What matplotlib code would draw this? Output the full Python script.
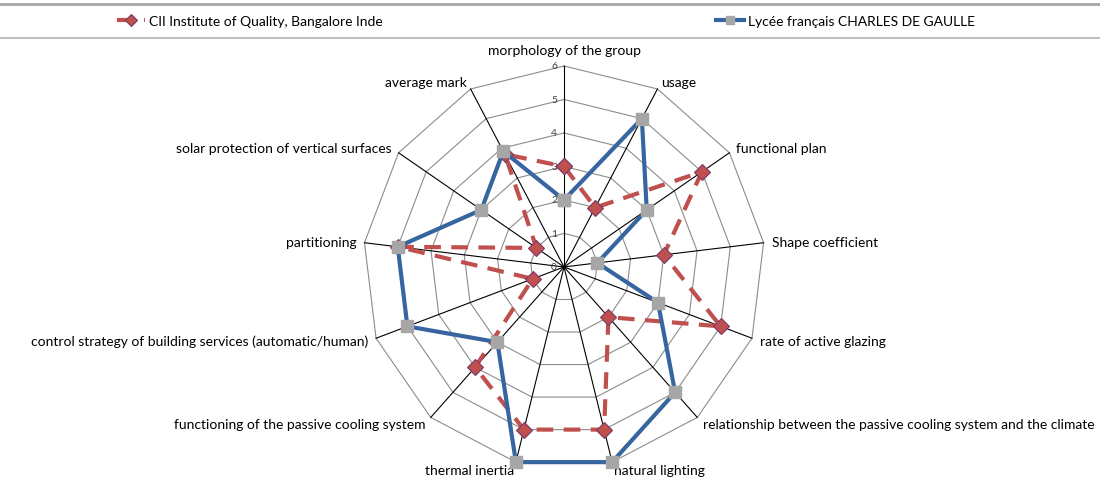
""" Radar chart comparing two buildings on bioclimatic criteria """

import numpy as np
import matplotlib
matplotlib.use("Agg")
import matplotlib.pyplot as plt
from matplotlib.lines import Line2D

categories = [
    "morphology of the group",
    "usage",
    "functional plan",
    "Shape coefficient",
    "rate of active glazing",
    "relationship between the passive cooling system and the climate",
    "natural lighting",
    "thermal inertia",
    "functioning of the passive cooling system",
    "control strategy of building services (automatic/human)",
    "partitioning",
    "solar protection of vertical surfaces",
    "average mark",
]
cii_values = [3, 2, 5, 3, 5, 2, 5, 5, 4, 1, 5, 1, 3.8]
lycee_values = [2, 5, 3, 1, 3, 5, 6, 6, 3, 5, 5, 3, 3.9]
series_names = ["CII Institute of Quality, Bangalore Inde",
                "Lycée français CHARLES DE GAULLE"]
r_ticks = [0, 1, 2, 3, 4, 5, 6]

plt.rcParams["font.family"] = ["Lato", "DejaVu Sans"]

fig = plt.figure(figsize=(11, 4.81), dpi=100)
ax = fig.add_axes([0.330, 0.025, 0.3655, 0.8358], projection="polar")
ax.set_theta_zero_location("N")
ax.set_theta_direction(-1)
ax.set_ylim(0, 6)
ax.grid(False)
ax.set_xticks([])
ax.set_yticks([])
ax.spines["polar"].set_visible(False)
ax.patch.set_visible(False)

n = len(categories)
angles = np.arange(n) * 2 * np.pi / n
closed = np.append(angles, angles[0])

# polygon grid + spokes
for r in r_ticks[1:]:
    ax.plot(closed, [r] * (n + 1), color="#8c8c8c", lw=0.8, clip_on=False, zorder=1)
for a in angles:
    ax.plot([a, a], [0, 6], color="black", lw=0.8, clip_on=False, zorder=1)

for r in r_ticks:
    ax.annotate(str(r), (0, r), xytext=(-5, 0), textcoords="offset points",
                ha="right", va="center", fontsize=7.5, color="#404040")

# category labels
for a, label in zip(angles, categories):
    s, c = np.sin(a), np.cos(a)
    ha = "left" if s > 0.1 else ("right" if s < -0.1 else "center")
    if abs(s) < 0.1 and c > 0:
        ax.annotate(label, (a, 6), xytext=(0, 7), textcoords="offset points",
                    ha="center", va="bottom", fontsize=10)
    else:
        ax.annotate(label, (a, 6), xytext=(6 * s, 6 * c), textcoords="offset points",
                    ha=ha, va="center", fontsize=10)

# data series
ax.plot(closed, np.append(cii_values, cii_values[0]), color="#C0504D", lw=3,
        ls=(0, (4, 2.5)), marker="D", markersize=8, markerfacecolor="#C0504D",
        markeredgecolor="#7a3a6a", markeredgewidth=0.8, clip_on=False, zorder=3,
        label=series_names[0])
ax.plot(closed, np.append(lycee_values, lycee_values[0]), color="#37659f", lw=3,
        marker="s", markersize=8, markerfacecolor="#a6a6a6",
        markeredgecolor="#a6a6a6", clip_on=False, zorder=4,
        label=series_names[1])

# legend frame lines
fig.add_artist(Line2D([0, 1], [1 - 5 / 481] * 2, color="#a6a6a6", lw=2))
fig.add_artist(Line2D([0, 1], [1 - 39 / 481] * 2, color="#bfbfbf", lw=1.5))

handles, labels = ax.get_legend_handles_labels()
fig.legend(handles, labels, ncol=2, loc="center left", bbox_to_anchor=(0.095, 1 - 22 / 481),
           frameon=False, fontsize=10, handlelength=2.0, handletextpad=0.3,
           columnspacing=24, markerscale=0.8)

fig.savefig("out.png", dpi=100)
